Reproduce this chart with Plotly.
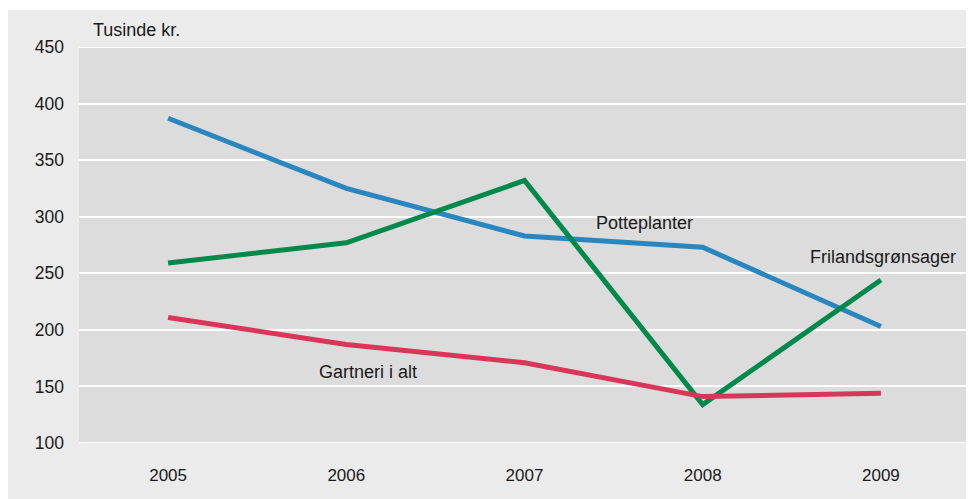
import plotly.graph_objects as go

years = ["2005", "2006", "2007", "2008", "2009"]
potteplanter = [387, 325, 283, 273, 203]
frilandsgronsager = [259, 277, 332, 134, 244]
gartneri_i_alt = [211, 187, 171, 141, 144]

series_names = ["Potteplanter", "Frilandsgrønsager", "Gartneri i alt"]
y_ticks = [100, 150, 200, 250, 300, 350, 400, 450]

# page body has an 8px margin; figure placed at (8, 8)
OFF = 8
W, H = 963, 491
L, R, T, B = 71, 1, 39, 56
pw, ph = W - L - R, H - T - B

def px_x(px):
    return (px - OFF - L) / pw

def px_y(py):
    return (H - B - (py - OFF)) / ph

FONT = "Liberation Sans"
fig = go.Figure()
colors = ["#2a86bf", "#00894b", "#da3659"]
for name, vals, c in zip(series_names, [potteplanter, frilandsgronsager, gartneri_i_alt], colors):
    fig.add_trace(go.Scatter(x=years, y=vals, mode="lines", name=name,
                             line=dict(color=c, width=5)))

edge_lines = [dict(type="line", xref="paper", yref="y", layer="below",
                   x0=0, x1=1, y0=v, y1=v, line=dict(color="white", width=2))
              for v in (y_ticks[0], y_ticks[-1])]

fig.update_layout(
    width=W, height=H,
    margin=dict(l=L, r=R, t=T, b=B),
    paper_bgcolor="#ebebeb",
    plot_bgcolor="#dcdcdc",
    showlegend=False,
    font=dict(family=FONT, size=17, color="#1a1a1a"),
    xaxis=dict(type="category", range=[-0.5, 4.5], showgrid=False, zeroline=False,
               showline=False, ticks="", ticklabelstandoff=20,
               tickfont=dict(size=17)),
    yaxis=dict(range=[100, 450], tickvals=y_ticks, showgrid=True, gridcolor="white",
               gridwidth=2, zeroline=False, showline=False, ticks="",
               ticklabelstandoff=14, tickfont=dict(size=17.5)),
    shapes=[dict(type="rect", xref="paper", yref="paper", layer="above",
                 x0=px_x(0), x1=px_x(980), y0=px_y(10), y1=px_y(0),
                 fillcolor="white", line=dict(width=0))] + edge_lines,
    annotations=[
        dict(text="Tusinde kr.", xref="paper", yref="paper", x=px_x(91), y=px_y(30),
             xanchor="left", yanchor="middle", showarrow=False, font=dict(size=18)),
        dict(text="Potteplanter", xref="paper", yref="paper", x=px_x(644), y=px_y(223),
             xanchor="center", yanchor="middle", showarrow=False, font=dict(size=18)),
        dict(text="Frilandsgrønsager", xref="paper", yref="paper", x=px_x(883), y=px_y(257),
             xanchor="center", yanchor="middle", showarrow=False, font=dict(size=18)),
        dict(text="Gartneri i alt", xref="paper", yref="paper", x=px_x(368), y=px_y(372),
             xanchor="center", yanchor="middle", showarrow=False, font=dict(size=18)),
    ],
)

fig.write_html("out.html")
